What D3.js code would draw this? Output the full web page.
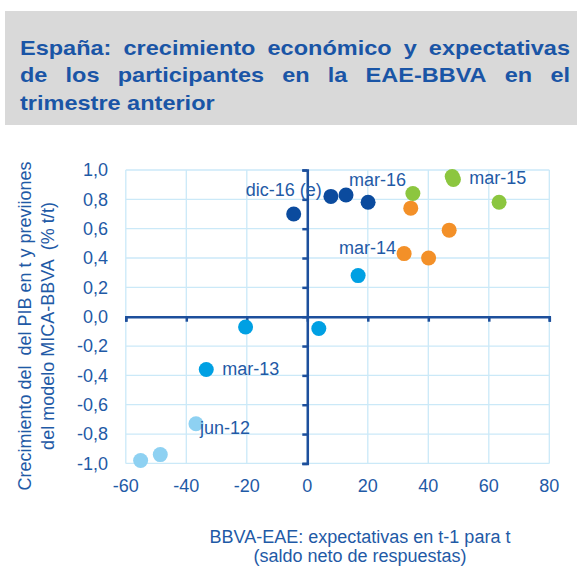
<!DOCTYPE html>
<html>
<head>
<meta charset="utf-8">
<script src="https://cdn.jsdelivr.net/npm/d3@7"></script>
<style>
body { margin: 0; background: #fff; }
svg { display: block; }
text { font-family: "Liberation Sans", Arial, sans-serif; }
</style>
</head>
<body>
<script>
// trimestre, expectativas EAE (t-1) y crecimiento PIB (t)
var periods = ["jun-12", "sep-12", "dic-12",
    "mar-13", "jun-13", "sep-13", "dic-13",
    "mar-14", "jun-14", "sep-14", "dic-14",
    "mar-15", "jun-15", "sep-15", "dic-15",
    "mar-16", "jun-16", "sep-16", "dic-16 (e)"];
var years = ["2012", "2012", "2012",
    "2013", "2013", "2013", "2013",
    "2014", "2014", "2014", "2014",
    "2015", "2015", "2015", "2015",
    "2016", "2016", "2016", "2016"];
var expectativas = [-36.8, -48.6, -55.1,
    -33.4, -20.4, 3.8, 16.8,
    32.0, 40.1, 46.9, 34.2,
    47.9, 63.4, 48.3, 34.9,
    20.1, 12.8, 7.8, -4.5];
var crecimiento = [-0.73, -0.94, -0.98,
    -0.36, -0.07, -0.08, 0.28,
    0.43, 0.40, 0.59, 0.74,
    0.955, 0.78, 0.935, 0.84,
    0.78, 0.83, 0.82, 0.70];

var yearNames = ["2012", "2013", "2014", "2015", "2016"];
var yearColors = ["#8ed1f2", "#00a0e3", "#f39028", "#8cc63f", "#0b4b9e"];

var xTicks = [-60, -40, -20, 0, 20, 40, 60, 80];
var yTicks = [-1, -0.8, -0.6, -0.4, -0.2, 0, 0.2, 0.4, 0.6, 0.8, 1];

var titleLines = ["España: crecimiento económico y expectativas",
    "de los participantes en la EAE-BBVA en el",
    "trimestre anterior"];
var yTitle = ["Crecimiento del  del PIB en t y previiones",
    "del modelo MICA-BBVA  (% t/t)"];
var xTitle = ["BBVA-EAE: expectativas en t-1 para t",
    "(saldo neto de respuestas)"];

// label placement: dx, dy from the point, anchor
var labelPos = {
    "jun-12": [4, 4, "start"],
    "mar-13": [16, -1, "start"],
    "mar-14": [-8, -5.5, "end"],
    "mar-15": [17, 1.5, "start"],
    "mar-16": [9.5, -22.5, "middle"],
    "dic-16 (e)": [-10, -24, "middle"]
};

var width = 577, height = 587;
var blue = "#1f5aa6";
var axisBlue = "#1d4f9c";
var gridBlue = "#cbe9f8";

var locale = d3.formatLocale({decimal: ",", thousands: ".", grouping: [3], currency: ["", "€"], minus: "-"});
var fmtY = locale.format(".1f");
var fmtX = locale.format("d");

var x = d3.scaleLinear().domain([-60, 80]).range([125.8, 549.3]);
var y = d3.scaleLinear().domain([-1, 1]).range([463.4, 170]);
var color = d3.scaleOrdinal().domain(yearNames).range(yearColors);

var svg = d3.select("body").append("svg")
    .attr("width", width)
    .attr("height", height);

// title box
svg.append("rect")
    .attr("x", 5).attr("y", 11)
    .attr("width", 572).attr("height", 114)
    .attr("fill", "#d9d9d9");

var sx = 1.12;
var titleLeft = 20, titleRight = 570;
var title = svg.append("g")
    .attr("transform", "translate(" + titleLeft + ",0) scale(" + sx + ",1)");
titleLines.forEach(function(line, i) {
    var words = line.split(" ");
    var ty = 55 + i * 27.5;
    var nodes = words.map(function(w) {
        return title.append("text")
            .attr("y", ty)
            .attr("font-size", 21)
            .attr("font-weight", "bold")
            .attr("fill", "#1a55a6")
            .text(w);
    });
    var widths = nodes.map(function(n) { return n.node().getComputedTextLength(); });
    var avail = (titleRight - titleLeft) / sx;
    var gap;
    if (i < titleLines.length - 1) {
        gap = (avail - d3.sum(widths)) / (words.length - 1);
    } else {
        gap = 21 * 0.278;
    }
    var cx = 0;
    nodes.forEach(function(n, j) {
        n.attr("x", cx);
        cx += widths[j] + gap;
    });
});

// grid
svg.append("g").selectAll("line")
    .data(xTicks)
    .enter().append("line")
    .attr("x1", function(d) { return x(d); })
    .attr("x2", function(d) { return x(d); })
    .attr("y1", y(1)).attr("y2", y(-1))
    .attr("stroke", gridBlue).attr("stroke-width", 1.3);

svg.append("g").selectAll("line")
    .data(yTicks)
    .enter().append("line")
    .attr("y1", function(d) { return y(d); })
    .attr("y2", function(d) { return y(d); })
    .attr("x1", x(-60)).attr("x2", x(80))
    .attr("stroke", gridBlue).attr("stroke-width", 1.3);

// axes crossing at origin
var xAxis = d3.axisBottom(x).tickValues(xTicks).tickSize(5).tickFormat("");
var yAxis = d3.axisLeft(y).tickValues(yTicks).tickSize(5).tickFormat("");

var gx = svg.append("g")
    .attr("transform", "translate(0," + y(0) + ")")
    .call(xAxis);
var gy = svg.append("g")
    .attr("transform", "translate(" + x(0) + ",0)")
    .call(yAxis);
[gx, gy].forEach(function(g) {
    g.select(".domain").attr("stroke", axisBlue).attr("stroke-width", 2.5);
    g.selectAll(".tick line").attr("stroke", axisBlue).attr("stroke-width", 2.5);
});

// tick labels at the frame edges
svg.append("g").selectAll("text")
    .data(xTicks)
    .enter().append("text")
    .attr("x", function(d) { return x(d); })
    .attr("y", 492)
    .attr("text-anchor", "middle")
    .attr("font-size", 18)
    .attr("fill", blue)
    .text(function(d) { return fmtX(d); });

svg.append("g").selectAll("text")
    .data(yTicks)
    .enter().append("text")
    .attr("x", 108)
    .attr("y", function(d) { return y(d); })
    .attr("dy", "0.35em")
    .attr("text-anchor", "end")
    .attr("font-size", 18)
    .attr("fill", blue)
    .text(function(d) { return fmtY(d); });

// points
var points = periods.map(function(p, i) {
    return {period: p, year: years[i], ex: expectativas[i], gr: crecimiento[i]};
});

svg.append("g").selectAll("circle")
    .data(points)
    .enter().append("circle")
    .attr("cx", function(d) { return x(d.ex); })
    .attr("cy", function(d) { return y(d.gr); })
    .attr("r", 7.5)
    .attr("fill", function(d) { return color(d.year); });

svg.append("g").selectAll("text")
    .data(points.filter(function(d) { return labelPos[d.period]; }))
    .enter().append("text")
    .attr("x", function(d) { return x(d.ex) + labelPos[d.period][0]; })
    .attr("y", function(d) { return y(d.gr) + labelPos[d.period][1]; })
    .attr("dy", "0.35em")
    .attr("text-anchor", function(d) { return labelPos[d.period][2]; })
    .attr("font-size", 18)
    .attr("fill", blue)
    .text(function(d) { return d.period; });

// axis titles
svg.append("g").selectAll("text")
    .data(xTitle)
    .enter().append("text")
    .attr("x", 360)
    .attr("y", function(d, i) { return 543 + i * 19; })
    .attr("text-anchor", "middle")
    .attr("font-size", 18)
    .attr("fill", blue)
    .text(function(d) { return d; });

svg.append("g").selectAll("text")
    .data(yTitle)
    .enter().append("text")
    .attr("transform", function(d, i) { return "translate(" + (25 + i * 23) + ",326) rotate(-90)"; })
    .attr("dy", "0.35em")
    .attr("text-anchor", "middle")
    .attr("font-size", 18)
    .attr("fill", blue)
    .style("white-space", "pre")
    .text(function(d) { return d; });
</script>
</body>
</html>
